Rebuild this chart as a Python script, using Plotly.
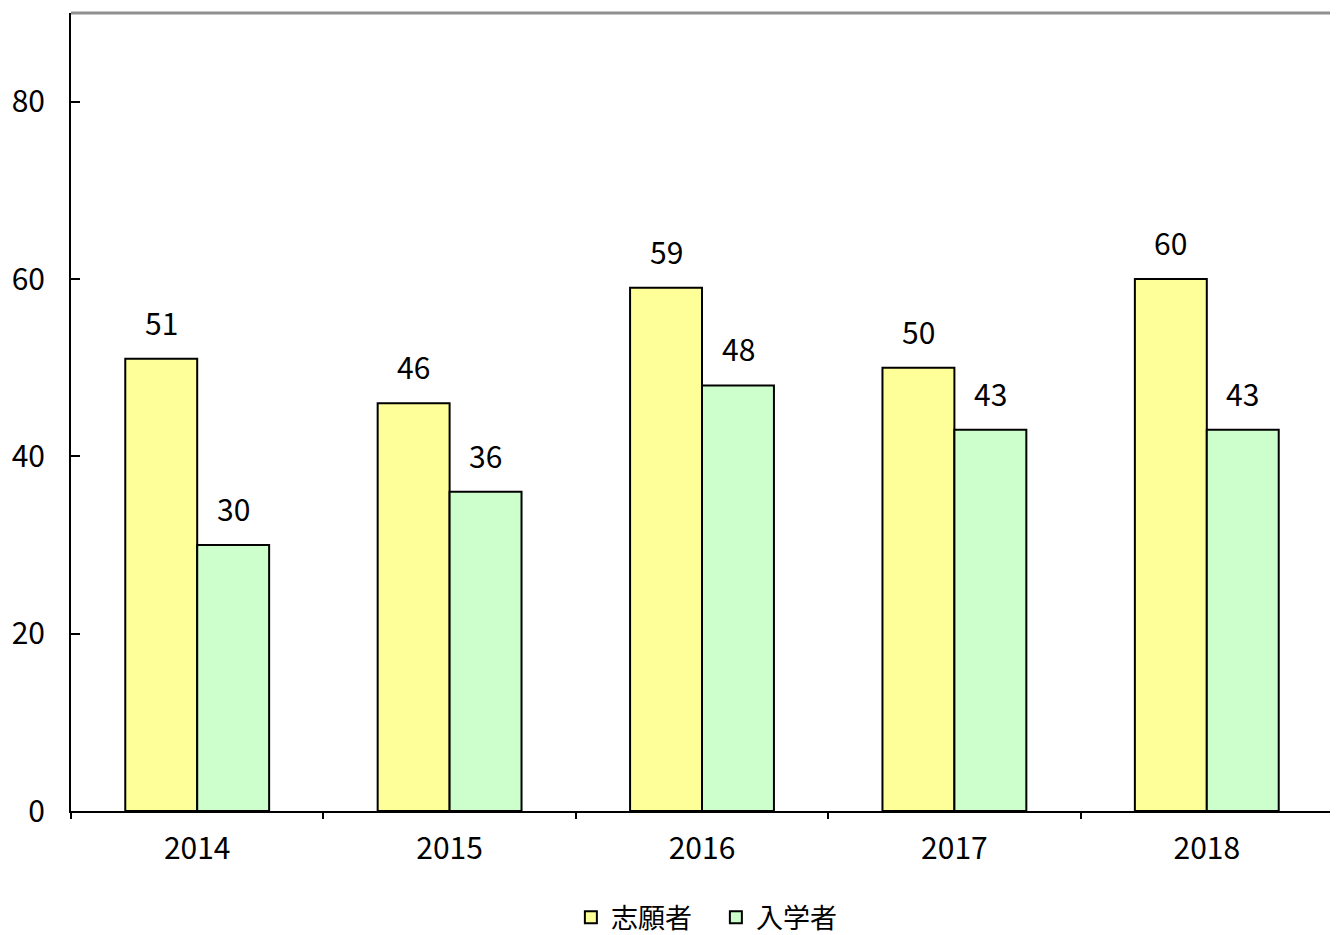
import plotly.graph_objects as go

years = ["2014", "2015", "2016", "2017", "2018"]
applicants = [51, 46, 59, 50, 60]
enrolled = [30, 36, 48, 43, 43]
series_names = ["志願者", "入学者"]
y_ticks = [0, 20, 40, 60, 80]

FONT = "Noto Sans CJK JP"
FS = 30

fig = go.Figure()
fig.add_trace(go.Bar(x=years, y=applicants, name=series_names[0],
                     marker=dict(color="#FFFF99", line=dict(color="black", width=2))))
fig.add_trace(go.Bar(x=years, y=enrolled, name=series_names[1],
                     marker=dict(color="#CCFFCC", line=dict(color="black", width=2))))

annotations = []
for vals, shift in [(applicants, -36), (enrolled, 36)]:
    for i, v in enumerate(vals):
        annotations.append(dict(x=i, y=v, xref="x", yref="y", text=str(v),
                                showarrow=False, xshift=shift, yshift=37,
                                font=dict(size=FS, color="black", family=FONT)))

fig.update_layout(
    width=1338, height=935,
    margin=dict(l=63, r=13, t=5, b=132, autoexpand=False),
    paper_bgcolor="white", plot_bgcolor="white",
    barmode="group", bargap=0.43, bargroupgap=0,
    font=dict(family=FONT, size=FS, color="black"),
    showlegend=True,
    legend=dict(orientation="h", x=0.511, xanchor="center", y=-0.103, yanchor="top",
                font=dict(size=27, family=FONT), itemwidth=30, traceorder="normal",
                entrywidth=100, entrywidthmode="pixels"),
    annotations=annotations,
    xaxis=dict(type="category", range=[-0.5, 4.5], showline=True, linecolor="black",
               linewidth=2, ticks="outside", tickson="boundaries", ticklen=6,
               tickwidth=1.5, tickcolor="black", showgrid=False, tickangle=0,
               tickfont=dict(size=FS, family=FONT), automargin=False,
               ticklabelstandoff=10),
    yaxis=dict(range=[0, 90], tickvals=y_ticks, showline=True, linecolor="black",
               linewidth=2, ticks="inside", ticklen=9, tickwidth=2, tickcolor="black",
               showgrid=False, zeroline=False, tickfont=dict(size=FS, family=FONT),
               automargin=False, ticklabelstandoff=18),
    shapes=[
        dict(type="line", xref="paper", yref="paper", x0=0, x1=1, y0=1, y1=1,
             line=dict(color="#909090", width=3)),
        dict(type="line", xref="paper", yref="paper", x0=1, x1=1, y0=0, y1=1,
             line=dict(color="#909090", width=3)),
    ],
)

fig.write_html("out.html")
